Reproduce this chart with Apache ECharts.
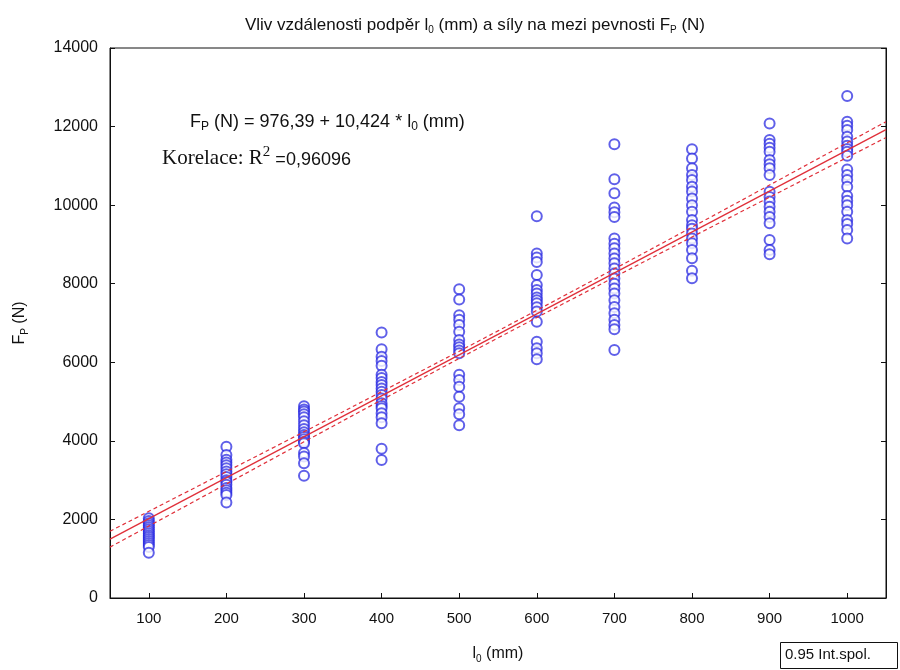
<!DOCTYPE html>
<html>
<head>
<meta charset="utf-8">
<script src="https://cdn.jsdelivr.net/npm/echarts@6/dist/echarts.min.js"></script>
<style>html,body{margin:0;padding:0;background:#fff}#c{width:900px;height:670px}</style>
</head>
<body>
<div id="c"></div>
<script>
// ---- data ----
const xTicks = [100, 200, 300, 400, 500, 600, 700, 800, 900, 1000];
const yTicks = [0, 2000, 4000, 6000, 8000, 10000, 12000, 14000];

const f100 = [2030, 1960, 1900, 1850, 1800, 1750, 1700, 1650, 1600, 1550, 1500, 1450, 1400, 1350, 1300, 1150];
const f200 = [3850, 3640, 3520, 3450, 3380, 3300, 3220, 3150, 3080, 3000, 2950, 2880, 2800, 2740, 2680, 2620, 2430];
const f300 = [4880, 4800, 4750, 4680, 4600, 4500, 4400, 4300, 4220, 4150, 4100, 4040, 3980, 3940, 3690, 3600, 3430, 3110];
const f400 = [6760, 6330, 6140, 6030, 5910, 5680, 5600, 5500, 5420, 5330, 5250, 5170, 5080, 4960, 4890, 4830, 4700, 4600, 4450, 3800, 3510];
const f500 = [7860, 7600, 7200, 7080, 6950, 6780, 6570, 6450, 6380, 6300, 6230, 5680, 5550, 5380, 5120, 4830, 4680, 4400];
const f600 = [9720, 8770, 8670, 8550, 8220, 7970, 7840, 7750, 7650, 7580, 7500, 7400, 7290, 7030, 6520, 6360, 6230, 6080];
const f700 = [11550, 10660, 10300, 9940, 9820, 9700, 9150, 9020, 8900, 8770, 8640, 8520, 8390, 8260, 8130, 8000, 7880, 7750, 7580, 7410, 7250, 7080, 6950, 6840, 6310];
const f800 = [11420, 11190, 10940, 10770, 10640, 10470, 10350, 10170, 10000, 9830, 9620, 9490, 9400, 9280, 9150, 9030, 8860, 8650, 8330, 8140];
const f900 = [12080, 11660, 11560, 11460, 11360, 11150, 11040, 10940, 10770, 10340, 10210, 10090, 9960, 9830, 9700, 9540, 9110, 8860, 8750];
const f1000 = [12780, 12120, 12020, 11910, 11740, 11620, 11510, 11430, 11360, 11260, 10910, 10770, 10640, 10470, 10230, 10110, 10000, 9830, 9620, 9520, 9370, 9150];

const groups = [f100, f200, f300, f400, f500, f600, f700, f800, f900, f1000];

// regression line (end points at the plot edges)
const regX = [50, 1050];
const regY = [1498, 11922];

// 0.95 confidence band
const ciX = [50, 175, 300, 425, 550, 675, 800, 925, 1050];
const ciUpper = [1700, 2965, 4230, 5510, 6800, 8115, 9440, 10780, 12125];
const ciLower = [1295, 2635, 3975, 5305, 6620, 7910, 9190, 10455, 11720];

// ---- build chart ----
const pts = [];
groups.forEach((g, i) => g.forEach(v => pts.push([xTicks[i], v])));
const zip = (a, b) => a.map((v, i) => [v, b[i]]);

const chart = echarts.init(document.getElementById('c'), null, {renderer: 'canvas'});
const red = '#e0303a';
const SANS = 'Arial, Liberation Sans, sans-serif';
const SERIF = 'Liberation Serif, Times New Roman, serif';

chart.setOption({
  animation: false,
  backgroundColor: '#fff',
  title: {
    text: 'Vliv vzdálenosti podpěr l{s|0} (mm) a síly na mezi pevnosti F{s|P} (N)',
    left: 470, top: 10, textAlign: 'center',
    textStyle: {
      fontFamily: SANS, fontSize: 17, fontWeight: 'normal', color: '#111',
      lineHeight: 20,
      rich: {s: {fontSize: 10, verticalAlign: 'bottom', lineHeight: 15, fontFamily: SANS, color: '#111'}}
    }
  },
  grid: {left: 110, right: 14, top: 48, bottom: 72, show: true, borderColor: '#111', borderWidth: 1},
  xAxis: {
    type: 'value', min: 50, max: 1050,
    name: 'l{s|0} (mm)', nameLocation: 'middle', nameGap: 46,
    nameTextStyle: {fontFamily: SANS, fontSize: 16, color: '#111', lineHeight: 20,
      rich: {s: {fontSize: 10, verticalAlign: 'bottom', lineHeight: 15, fontFamily: SANS, color: '#111'}}},
    axisLine: {show: true, onZero: false, lineStyle: {color: '#111', width: 1}},
    axisTick: {show: true, inside: true, length: 5, customValues: xTicks, lineStyle: {color: '#111'}},
    axisLabel: {customValues: xTicks, margin: 13, fontFamily: SANS, fontSize: 15, color: '#111',
      formatter: v => String(v)},
    splitLine: {show: false}
  },
  yAxis: [{
    type: 'value', min: 0, max: 14000, interval: 2000,
    name: 'F{s|P} (N)', nameLocation: 'middle', nameGap: 80, nameRotate: 90,
    nameTextStyle: {fontFamily: SANS, fontSize: 16, color: '#111', lineHeight: 20,
      rich: {s: {fontSize: 10, verticalAlign: 'bottom', lineHeight: 15, fontFamily: SANS, color: '#111'}}},
    axisLine: {show: true, lineStyle: {color: '#111', width: 1}},
    axisTick: {show: true, inside: true, length: 5, lineStyle: {color: '#111'}},
    axisLabel: {margin: 12, fontFamily: SANS, fontSize: 16, color: '#111', formatter: v => String(v)},
    splitLine: {show: false}
  }, {
    type: 'value', min: 0, max: 14000, interval: 2000, position: 'right',
    axisLine: {show: true, lineStyle: {color: '#111', width: 1}},
    axisTick: {show: true, inside: true, length: 5, lineStyle: {color: '#111'}},
    axisLabel: {show: false},
    splitLine: {show: false}
  }],
  series: [{
    type: 'scatter',
    data: pts,
    symbol: 'emptyCircle',
    symbolSize: 10,
    itemStyle: {color: 'rgba(35,35,225,0.9)', borderColor: 'rgba(35,35,225,0.9)', borderWidth: 1.4},
    z: 2
  }, {
    type: 'line', data: zip(regX, regY), symbol: 'none',
    lineStyle: {color: red, width: 1.3}, z: 3
  }, {
    type: 'line', data: zip(ciX, ciUpper), symbol: 'none', smooth: true,
    lineStyle: {color: red, width: 1.2, type: [4, 3]}, z: 3
  }, {
    type: 'line', data: zip(ciX, ciLower), symbol: 'none', smooth: true,
    lineStyle: {color: red, width: 1.2, type: [4, 3]}, z: 3
  }],
  graphic: [{
    type: 'text', left: 190, top: 111,
    style: {
      text: 'F{s|P} (N) = 976,39 + 10,424 * l{s|0} (mm)',
      font: '18px Arial, Liberation Sans, sans-serif', fill: '#111',
      lineHeight: 22,
      rich: {s: {fontSize: 12, verticalAlign: 'bottom', lineHeight: 17, fill: '#111'}}
    }
  }, {
    type: 'text', left: 162, top: 145,
    style: {
      text: '{a|Korelace: R}{p|2}{b| =0,96096}',
      fill: '#111',
      rich: {
        a: {fontFamily: SERIF, fontSize: 21, lineHeight: 24, verticalAlign: 'bottom'},
        p: {fontFamily: SERIF, fontSize: 15, lineHeight: 24, verticalAlign: 'top'},
        b: {fontFamily: SANS, fontSize: 18, lineHeight: 24, verticalAlign: 'bottom'}
      }
    }
  }, {
    type: 'rect', left: 780, top: 642,
    shape: {width: 117, height: 26},
    style: {fill: '#fff', stroke: '#111', lineWidth: 1}
  }, {
    type: 'text', left: 785, top: 647,
    style: {text: '0.95 Int.spol.', font: '15px Arial, Liberation Sans, sans-serif', fill: '#111'}
  }]
});
</script>
</body>
</html>
